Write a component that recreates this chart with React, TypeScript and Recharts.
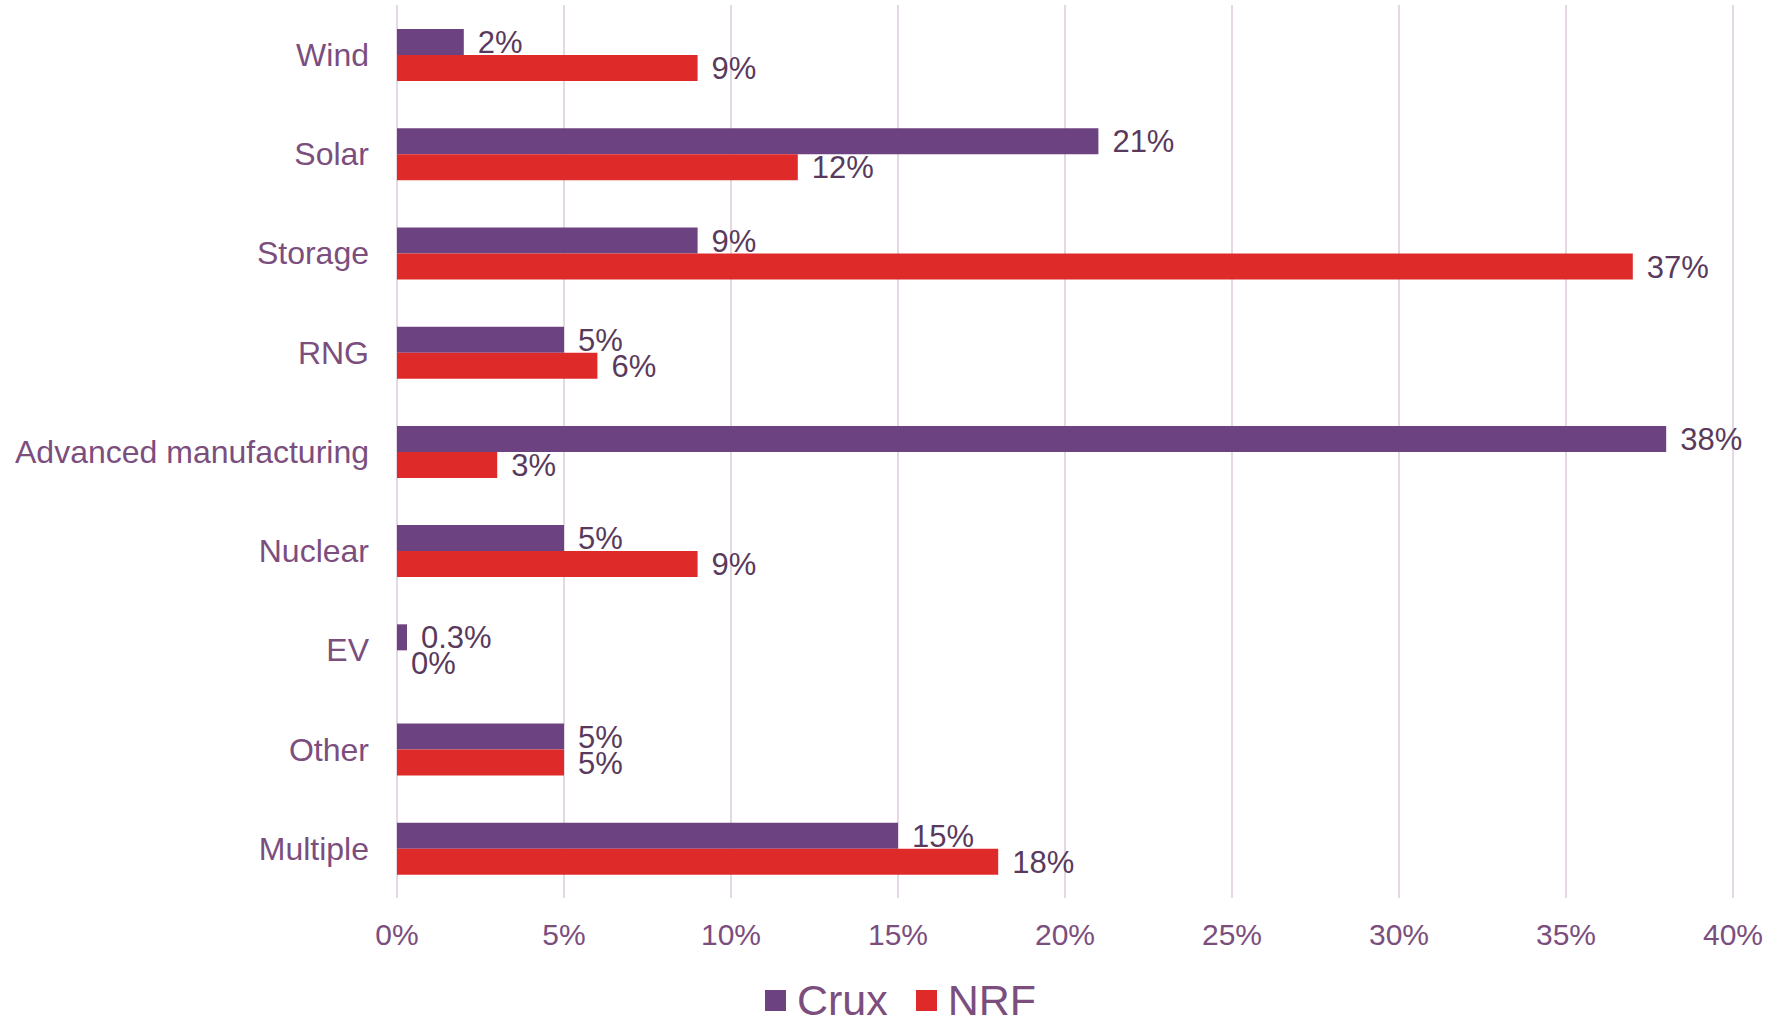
import { BarChart, Bar, XAxis, YAxis, CartesianGrid, LabelList, Legend } from 'recharts'

const categories = ['Wind', 'Solar', 'Storage', 'RNG', 'Advanced manufacturing', 'Nuclear', 'EV', 'Other', 'Multiple']
const cruxValues = [2, 21, 9, 5, 38, 5, 0.3, 5, 15]
const nrfValues = [9, 12, 37, 6, 3, 9, 0, 5, 18]
const xTicks = [0, 5, 10, 15, 20, 25, 30, 35, 40]

const COLORS = {
  Crux: '#6C4380',
  NRF: '#DF2A2A',
}
const LABEL_COLOR = '#7B4E7E'
const VALUE_COLOR = '#5A3A5C'
const FONT = '"Liberation Sans", Arial, sans-serif'

const data = categories.map((name, i) => ({ name, Crux: cruxValues[i], NRF: nrfValues[i] }))

// draws the value even for a zero-width bar (EV / NRF = 0%)
const ValueLabel = (props: any) => {
  const { x, y, width, height, value } = props
  if (value === undefined || value === null) return null
  return (
    <text
      x={Number(x) + Number(width || 0) + 14}
      y={Number(y) + Number(height) / 2}
      dy="0.36em"
      fill={VALUE_COLOR}
      fontSize={31}
      fontFamily={FONT}
    >
      {`${value}%`}
    </text>
  )
}

const LegendContent = () => (
  <div style={{ display: 'flex', justifyContent: 'center', alignItems: 'center', paddingTop: 26, paddingLeft: 68, fontFamily: FONT, fontSize: 43, color: LABEL_COLOR }}>
    {(['Crux', 'NRF'] as const).map((k, i) => (
      <div key={k} style={{ display: 'flex', alignItems: 'center', marginLeft: i ? 28 : 0 }}>
        <div style={{ width: 21, height: 21, background: COLORS[k], marginRight: 11 }} />
        <span>{k}</span>
      </div>
    ))}
  </div>
)

export default function App() {
  return (
    <div style={{ fontFamily: FONT }}>
      <style>{`body{margin:0}`}</style>
      <BarChart
        width={1773}
        height={1020}
        data={data}
        layout="vertical"
        margin={{ top: 5, right: 40, bottom: 0, left: 0 }}
        barSize={26}
        barGap={0}
      >
        <CartesianGrid horizontal={false} stroke="#E5D8E5" strokeWidth={2} />
        <XAxis
          type="number"
          domain={[0, 40]}
          ticks={xTicks}
          tickFormatter={(v) => `${v}%`}
          axisLine={false}
          tickLine={false}
          tickMargin={20}
          height={52}
          tick={{ fill: LABEL_COLOR, fontSize: 30, fontFamily: FONT }}
          interval={0}
        />
        <YAxis
          type="category"
          dataKey="name"
          width={397}
          axisLine={false}
          tickLine={false}
          tickMargin={22}
          tick={{ fill: LABEL_COLOR, fontSize: 32, fontFamily: FONT }}
          interval={0}
        />
        <Legend verticalAlign="bottom" height={70} content={<LegendContent />} />
        <Bar dataKey="Crux" fill={COLORS.Crux} isAnimationActive={false}>
          <LabelList dataKey="Crux" content={<ValueLabel />} />
        </Bar>
        <Bar dataKey="NRF" fill={COLORS.NRF} isAnimationActive={false} minPointSize={(v: number) => (v === 0 ? 0.01 : 0)}>
          <LabelList dataKey="NRF" content={<ValueLabel />} />
        </Bar>
      </BarChart>
    </div>
  )
}
